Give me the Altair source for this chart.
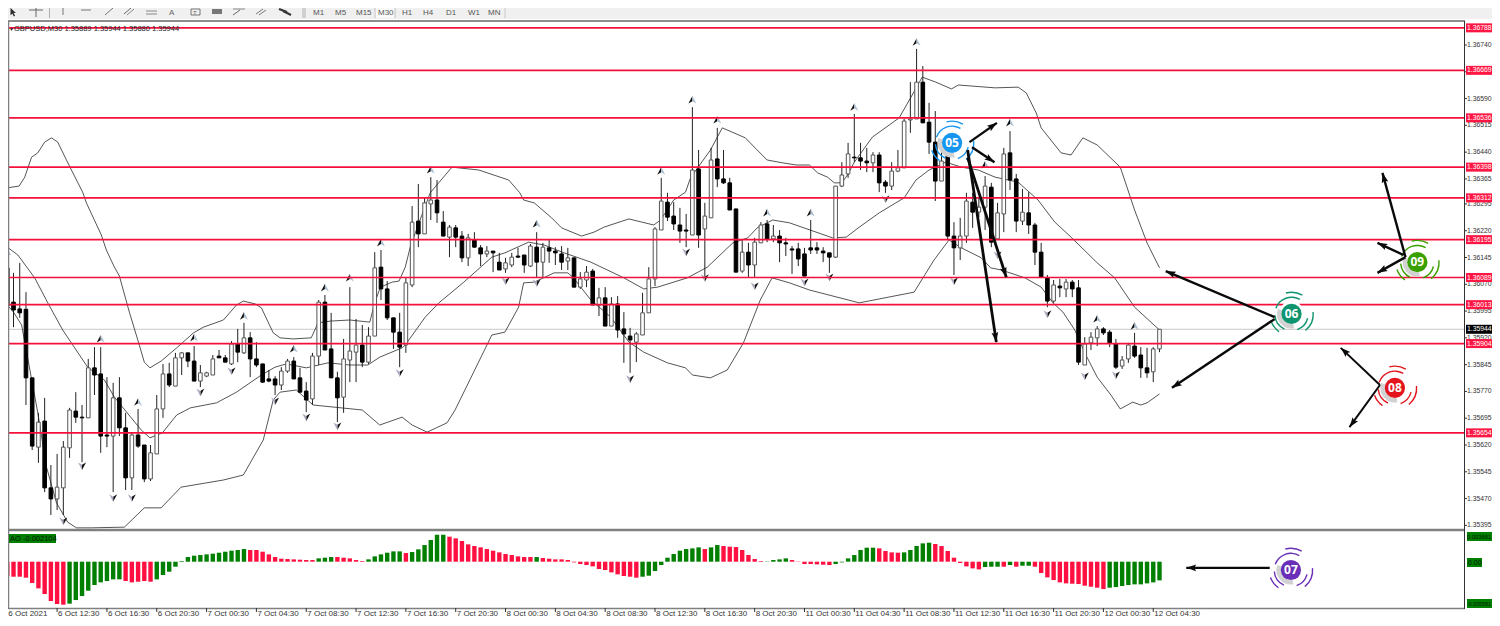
import altair as alt
import pandas as pd

FONT = "Liberation Sans"

# ---- candles (prices in units of 0.00001) ----
highs = [136144,136102,136130,136048,135808,135710,135752,135564,135595,135631,
135724,135768,135732,135861,135894,135894,135810,135794,135810,135710,
135654,135721,135620,135620,135760,135847,135850,135878,135880,135878,
135897,135844,135825,135872,135886,135872,135911,135945,135962,135936,
135908,135847,135830,135813,135838,135861,135866,135836,135796,135878,
136026,136040,135990,135825,135917,136062,135973,135956,135950,136160,
136166,136079,135976,135990,136088,136289,136351,136312,136370,136362,
136275,136236,136236,136219,136211,136216,136180,136177,136163,136158,
136144,136158,136172,136152,136183,136216,136186,136194,136174,136177,
136172,136144,136104,136121,136113,136060,136062,136034,136037,135992,
135948,135936,136046,136118,136230,136368,136326,136300,136284,136267,
136566,136446,136298,136452,136508,136446,136368,136281,136197,136186,
136200,136244,136250,136236,136222,136200,136177,136186,136172,136250,
136188,136174,136158,136345,136412,136466,136547,136466,136452,136440,
136440,136362,136412,136446,136533,136636,136729,136681,136578,136555,
136474,136454,136244,136256,136326,136326,136315,136373,136354,136298,
136452,136499,136379,136337,136328,136242,136186,136096,136082,136085,
136085,136082,136082,135922,135936,135953,135950,135942,135917,135869,
135906,135934,135894,135892,135894,135944]
tops = [136116,136020,136001,136000,135808,135684,135687,135500,135502,135614,
135718,135715,135698,135836,135836,135819,135648,135752,135752,135668,
135648,135648,135620,135598,135721,135819,135819,135864,135878,135878,
135855,135822,135822,135861,135869,135864,135903,135903,135920,135920,
135861,135847,135805,135805,135827,135855,135855,135808,135771,135869,
136020,136020,135889,135808,135861,135883,135900,135900,135925,136116,
136118,136057,135976,135936,136074,136244,136247,136298,136306,136306,
136244,136230,136228,136205,136200,136194,136172,136163,136163,136132,
136130,136146,136149,136152,136177,136174,136174,136172,136163,136155,
136144,136144,136085,136104,136107,136032,136032,136015,136015,135945,
135925,135931,135990,136085,136225,136303,136300,136261,136236,136222,
136390,136393,136261,136418,136421,136365,136354,136281,136160,136160,
136188,136236,136239,136205,136205,136186,136169,136169,136155,136172,
136172,136163,136158,136345,136376,136435,136426,136424,136415,136432,
136432,136356,136387,136396,136527,136533,136636,136636,136524,136468,
136415,136432,136205,136205,136303,136300,136286,136345,136342,136270,
136435,136438,136365,136272,136270,136236,136160,136088,136068,136065,
136076,136076,136060,135903,135922,135945,135945,135936,135903,135858,
135900,135897,135872,135836,135889,135944]
bottoms = [136009,135998,135990,135808,135617,135614,135500,135469,135469,135500,
135612,135698,135696,135696,135816,135645,135645,135645,135668,135528,
135528,135617,135525,135525,135595,135721,135788,135785,135864,135855,
135799,135799,135813,135816,135864,135852,135847,135880,135878,135861,
135844,135796,135799,135788,135788,135827,135805,135768,135746,135749,
135869,135886,135808,135752,135754,135858,135880,135852,135852,135925,
136057,135976,135936,135894,135900,136068,136211,136211,136295,136270,
136205,136202,136202,136144,136144,136174,136155,136155,136158,136110,
136113,136124,136146,136124,136121,136132,136132,136163,136158,136132,
136135,136062,136062,136082,136012,136012,135953,135953,135942,135931,
135914,135908,135928,135990,136085,136222,136258,136239,136219,136219,
136208,136208,136225,136256,136365,136354,136278,136104,136107,136124,
136124,136186,136197,136197,136186,136183,136166,136141,136093,136166,
136166,136158,136146,136146,136345,136379,136424,136415,136410,136410,
136354,136345,136345,136387,136396,136530,136533,136522,136468,136359,
136359,136205,136172,136172,136205,136272,136272,136286,136188,136197,
136267,136362,136247,136247,136236,136160,136090,136023,136023,136060,
136057,136057,135852,135844,135906,135920,135934,135906,135838,135841,
135861,135869,135836,135822,135825,135889]
lows = [135992,135950,135976,135732,135606,135570,135488,135424,135438,135424,
135584,135682,135572,135696,135760,135598,135614,135488,135645,135494,
135494,135612,135516,135519,135595,135696,135782,135785,135816,135838,
135799,135782,135810,135816,135864,135852,135844,135852,135875,135810,
135838,135794,135796,135760,135774,135822,135805,135766,135712,135732,
135844,135886,135808,135684,135710,135796,135796,135838,135847,135925,
136026,135970,135889,135838,135878,136062,136174,136211,136250,136242,
136205,136146,136174,136132,136121,136172,136121,136146,136104,136110,
136102,136118,136144,136102,136118,136090,136090,136130,136124,136110,
136110,136062,136057,136062,136012,135981,135953,135953,135920,135850,
135822,135852,135928,135990,136065,136222,136247,136222,136186,136174,
136208,136172,136090,136256,136342,136351,136278,136104,136102,136090,
136088,136186,136188,136188,136132,136149,136099,136121,136093,136155,
136155,136132,136102,136144,136342,136368,136412,136390,136384,136384,
136328,136326,136334,136384,136396,136494,136533,136522,136435,136303,
136359,136194,136096,136138,136186,136228,136258,136222,136174,136197,
136216,136334,136216,136236,136211,136124,136088,136006,136018,136034,
136034,136034,135844,135844,135886,135897,135928,135894,135833,135833,
135850,135864,135808,135808,135796,135880]
directions = ("dddddudduu" "uddudddudd" "udduuuduud" "duuuddudud" "dddduudddu"
              "uddduuuduu" "dddduuduud" "dudduddudd" "uuddududdd" "uduudududd"
              "duuuuudddd" "uduuddddud" "uududddddd" "ddduuudddu" "dduuuuuddd"
              "udduuduudu" "udduddddud" "udduuudddu" "uddduu")

# ---- Bollinger bands (candle position, price) ----
upper_i = [0,1.9,2.8,3.9,4.9,6,7.1,8.1,9.5,10.3,12.1,12.7,15.1,15.9,17.2,18,19.6,21.2,22,22.9,24.7,27.2,29.9,31.5,34.7,36.8,37.9,39.8,40.8,42.7,43.8,45.9,48.8,49.9,51.9,55,58.2,59,59.9,61.8,62.9,63.9,64.7,65.8,67.9,71.4,75.7,80.5,82.3,82.9,84.6,87.4,89,92.2,94.2,95.8,99.8,103.8,104.9,107,108.9,109.7,112.9,114.8,118.5,120.4,122,124.5,126.7,128.8,130.1,131.7,132.8,134,134.9,136,138.9,143.2,145.1,146.9,149.1,151.6,152.7,158.6,162.3,163.6,165.2,166,169.2,170.8,172.7,175,178.7,179.4,181,183,185]
upper_p = [136340,136345,136370,136426,136438,136468,136480,136468,136418,136390,136328,136298,136208,136166,136118,136093,135992,135900,135852,135836,135855,135892,135934,135950,135970,136012,136023,136015,136004,135934,135920,135917,135920,135962,135967,135970,135964,136018,136062,136076,136079,136118,136174,136228,136326,136398,136390,136362,136326,136306,136298,136256,136228,136205,136216,136230,136253,136236,136250,136306,136328,136368,136446,136508,136480,136446,136418,136410,136404,136404,136382,136370,136354,136354,136376,136412,136482,136536,136594,136650,136636,136617,136628,136620,136622,136606,136550,136508,136438,136432,136480,136460,136398,136362,136278,136186,136116]
middle_i = [0,1.7,4.4,6.5,8.9,12.9,15.6,17.2,21.5,22.9,24.9,27.2,29.4,33.6,36.8,40.8,43,44.8,48,51.5,55,57.9,59.8,63.4,63.9,67.1,69.3,73.3,77.8,79.9,83.7,86.2,89.4,93.7,99,102.2,104.4,109.2,112.4,116.5,118.9,120.4,122.9,125.6,132.5,134.7,136.8,140,144,145.9,148,150.7,153.2,155.9,158.6,162.3,165.5,168.2,170.8,175,177.8,181,185]
middle_p = [136174,136152,136088,136018,135942,135838,135802,135754,135662,135640,135654,135704,135724,135738,135768,135816,135838,135847,135836,135850,135844,135844,135866,135892,135900,135978,136018,136076,136146,136158,136188,136180,136158,136132,136088,136057,136062,136088,136118,136186,136200,136228,136250,136242,136200,136202,136230,136270,136312,136362,136390,136412,136398,136390,136370,136356,136306,136244,136202,136130,136088,136006,135942]
lower_i = [0,1,2.3,4.9,6.3,7.9,9.7,11.1,13.5,18.8,22,24.7,27.9,32,34.7,37.9,41.1,42.7,43.8,46.4,49.1,57,59.8,63.4,65,67.4,70.6,71.9,77.8,79.9,82.1,82.9,84.6,87.8,90,90.9,93.7,96.9,99.8,102.2,106,108.9,110,112.9,115.6,118.2,120.9,122.8,125.6,128.8,136.8,145.6,148.8,151.2,153.2,156.4,157.9,159.6,163.4,166,167.9,169.5,171.4,173,175,177.2,178.7,180.7,182,183,185]
lower_p = [136012,135992,135956,135710,135558,135458,135404,135388,135388,135390,135444,135444,135502,135514,135522,135536,135634,135746,135768,135774,135732,135718,135676,135698,135676,135656,135682,135718,135928,135936,136006,136074,136076,136102,136102,136088,136026,135978,135908,135880,135850,135836,135816,135808,135830,135906,136026,136088,136074,136054,136018,136048,136138,136194,136172,136144,136116,136110,136088,136062,136018,135992,135942,135878,135810,135760,135721,135740,135732,135738,135763]

# ---- fractals ----
frac_up_i = [0,15,21,30,38,46,51,55,60,68,85,105,110,114,122,129,136,146,157,161,175,181]
frac_up_p = [136160,135917,135740,135920,135981,135889,136060,136088,136186,136390,136239,136387,136586,136530,136270,136270,136566,136748,136404,136522,135973,135953]
frac_dn_i = [9,12,17,20,31,36,43,48,53,63,80,85,100,109,112,120,128,132,141,152,159,167,173,178]
frac_dn_p = [135407,135561,135472,135472,135768,135827,135743,135698,135673,135822,136079,136074,135805,136160,136088,136065,136076,136090,136309,136079,136152,135987,135813,135816]

# ---- horizontal levels ----
levels = [136788,136669,136536,136398,136312,136195,136089,136013,135904,135654]
level_labels = ["1.36788","1.36669","1.36536","1.36398","1.36312","1.36195","1.36089","1.36013","1.35904","1.35654"]
last_price = 135944
price_ticks = [136740,136665,136590,136515,136440,136365,136295,136220,136145,136070,135995,135920,135845,135770,135695,135620,135545,135470,135395]
price_tick_labels = ["1.36740","1.36665","1.36590","1.36515","1.36440","1.36365","1.36295","1.36220","1.36145","1.36070","1.35995","1.35920","1.35845","1.35770","1.35695","1.35620","1.35545","1.35470","1.35395"]

# ---- Awesome Oscillator (units of 0.000001) ----
ao = [-1819,-1949,-1949,-2078,-2771,-3464,-4200,-5109,-5500,-5581,
-5450,-4980,-4460,-3767,-3031,-2685,-2511,-2295,-2290,-2511,
-2685,-2598,-2511,-2598,-2295,-1732,-1299,-650,87,606,
779,866,953,1039,1169,1299,1429,1516,1645,1516,
1516,1299,953,606,390,346,303,260,217,217,
433,520,606,606,520,433,217,87,303,693,
953,1169,1342,1342,1126,1256,1602,2165,2815,3500,
3500,3248,3031,2685,2252,2035,1862,1645,1429,1212,
996,866,693,606,606,606,476,390,303,303,
217,-87,-303,-433,-606,-953,-1083,-1386,-1645,-1862,
-1949,-2078,-1949,-1819,-1212,-433,520,996,1429,1645,
1732,1862,1645,1862,2165,2035,1949,1905,1516,866,
346,87,40,217,303,433,217,-40,-303,-303,
-346,-390,-433,-303,-87,433,866,1516,1819,1819,
1732,1386,1212,1169,1212,1516,2035,2382,2468,2295,
2035,1386,520,-173,-606,-866,-996,-693,-650,-650,
-650,-433,-650,-520,-520,-650,-1472,-2035,-2382,-2685,
-2815,-2858,-2901,-3118,-3248,-3377,-3551,-3377,-3291,-3161,
-3031,-2944,-2944,-2815,-2685,-2425]
ao_colors = ("r"*10+"g"*9+"r"*5+"g"*15+"r"*11+"g"*3+"r"*5+"g"*6+"r"+"g"*6+"r"*14+"g"+"r"*16+"g"*10+"r"+"g"*2
             +"r"*7+"g"*4+"r"*7+"g"*7+"r"*4+"g"*5+"r"*8+"g"*3+"r"+"g"+"r"+"g"*2+"r"*12+"g"*9)

# ---- time axis ----
time_i = list(range(0,185,8))
time_labels = ["6 Oct 2021","6 Oct 12:30","6 Oct 16:30","6 Oct 20:30","7 Oct 00:30","7 Oct 04:30","7 Oct 08:30","7 Oct 12:30","7 Oct 16:30","7 Oct 20:30","8 Oct 00:30","8 Oct 04:30","8 Oct 08:30","8 Oct 12:30","8 Oct 16:30","8 Oct 20:30","11 Oct 00:30","11 Oct 04:30","11 Oct 08:30","11 Oct 12:30","11 Oct 16:30","11 Oct 20:30","12 Oct 00:30","12 Oct 04:30"]

# ---- annotations ----
bubble_i = [151.7,206.2,206.1,222.8,226.4]
bubble_p = [136466,135987,135270,135780,136132]
bubble_text = ["05","06","07","08","09"]
bubble_color = ["#1796f0","#0f9470","#6a2fb8","#e3141c","#3aa000"]
arrow_i = [154.5,154.9,154.2,154.2,203.5,203.5,202.7,220.4,220.4,224.5,224.2,224.5]
arrow_p = [136468,136454,136424,136446,135978,135973,135276,135788,135788,136146,136152,136146]
arrow_i2 = [158.9,158.5,160.4,158.8,186.0,187.0,189.3,214.1,215.5,220.8,220,220]
arrow_p2 = [136522,136412,136090,135908,136107,135780,135276,135892,135670,136382,136186,136102]
arrow_angle = [54.9,123,161.9,171.4,292.9,236.2,270,312.8,216.4,344.7,294.8,240.3]
arrow_width = [2.4,2.4,2.8,2.8,2.4,2.4,2.4,2,2,2.4,2.4,2.4]

# ---- scales: the page margin is 8 px, so the chart's origin sits at (8, 8) ----
M = 8
x_scale = alt.Scale(domain=[-0.367,238.87], range=[-M,1500-M], nice=False, zero=False)
y_scale = alt.Scale(domain=[135113.2,136866], range=[626-M,-M], nice=False, zero=False)
ao_scale = alt.Scale(domain=[-6013,3857], range=[608-M,532-M], nice=False, zero=False)
def X(f): return alt.X(f+":Q", scale=x_scale, axis=None)
def Y(f): return alt.Y(f+":Q", scale=y_scale, axis=None)
def Y2(f): return alt.Y2(f)
def PX(f): return alt.X(f+":Q", scale=None, axis=None)
def PY(f): return alt.Y(f+":Q", scale=None, axis=None)
def VX(v): return alt.value(v-M)
def VY(v): return alt.value(v-M)
def page(rows):
    df = pd.DataFrame(rows)
    for k in ("x","x2","y","y2"):
        if k in df: df[k] = df[k]-M
    return df

candles = pd.DataFrame({"i":range(len(highs)),"high":highs,"low":lows,"top":tops,"bottom":bottoms,"dir":list(directions)})
ao_df = pd.DataFrame({"i":range(len(ao)),"ao":ao,"zero":[0]*len(ao),"c":list(ao_colors)})

layers = []
rects = page([
 dict(x=8,x2=1492,y=8,y2=19,c="#f0f0f0"),
 dict(x=375,x2=395,y=8,y2=18,c="#fafafa"),
 dict(x=212,x2=222,y=9,y2=14,c="#777777"),
])
layers.append(alt.Chart(rects).mark_rect().encode(x=PX("x"),x2="x2:Q",y=PY("y"),y2="y2:Q",color=alt.Color("c:N",scale=None)))

layers.append(alt.Chart(pd.DataFrame({"p":[last_price]})).mark_rule(color="#c8c8c8",strokeWidth=1).encode(x=VX(8),x2=VX(1464),y=Y("p")))

for bi,bp in ((upper_i,upper_p),(middle_i,middle_p),(lower_i,lower_p)):
    layers.append(alt.Chart(pd.DataFrame({"i":bi,"p":bp})).mark_line(color="#2a2a2a",strokeWidth=0.8).encode(x=X("i"),y=Y("p")))

layers.append(alt.Chart(candles).mark_rule(color="#222222",strokeWidth=1).encode(x=X("i"),y=Y("low"),y2=Y2("high")))
layers.append(alt.Chart(candles).mark_bar(size=3.6,strokeWidth=1).encode(
    x=X("i"),y=Y("bottom"),y2=Y2("top"),
    fill=alt.Fill("dir:N",scale=alt.Scale(domain=["u","d"],range=["#ffffff","#000000"]),legend=None),
    stroke=alt.Stroke("dir:N",scale=alt.Scale(domain=["u","d"],range=["#555555","#000000"]),legend=None)))

up_df = pd.DataFrame({"i":frac_up_i,"p":frac_up_p})
dn_df = pd.DataFrame({"i":frac_dn_i,"p":frac_dn_p})
for df,shape,col in ((up_df,"M0,-1L-1,0.9L0,0.3Z","#111111"),(up_df,"M0,-1L1,0.9L0,0.3Z","#a9bdd0"),
                     (dn_df,"M0,1L1,-0.9L0,-0.3Z","#111111"),(dn_df,"M0,1L-1,-0.9L0,-0.3Z","#a9a9c0")):
    layers.append(alt.Chart(df).mark_point(shape=shape,filled=True,size=64,color=col,opacity=1).encode(x=X("i"),y=Y("p")))

lev = pd.DataFrame({"p":levels,"t":level_labels})
layers.append(alt.Chart(lev).mark_rule(color="#f5103c",strokeWidth=1.7).encode(x=VX(8),x2=VX(1465),y=Y("p")))

tk = pd.DataFrame({"p":price_ticks,"t":price_tick_labels})
LBL = 6.8
layers.append(alt.Chart(tk).mark_rule(color="#333333",strokeWidth=1).encode(x=VX(1464),x2=VX(1467),y=Y("p")))
layers.append(alt.Chart(tk).mark_text(align="left",baseline="middle",font=FONT,fontSize=LBL,color="#333333").encode(x=VX(1467),y=Y("p"),text="t:N"))
layers.append(alt.Chart(lev).mark_rule(color="#ff1744",strokeWidth=9).encode(x=VX(1466),x2=VX(1492),y=Y("p")))
layers.append(alt.Chart(lev).mark_text(align="left",baseline="middle",font=FONT,fontSize=LBL,color="#ffffff").encode(x=VX(1467),y=Y("p"),text="t:N"))
last_df = pd.DataFrame({"p":[last_price],"t":["1.35944"]})
layers.append(alt.Chart(last_df).mark_rule(color="#000000",strokeWidth=9).encode(x=VX(1466),x2=VX(1492),y=Y("p")))
layers.append(alt.Chart(last_df).mark_text(align="left",baseline="middle",font=FONT,fontSize=LBL,color="#ffffff").encode(x=VX(1467),y=Y("p"),text="t:N"))

layers.append(alt.Chart(ao_df).mark_bar(size=4.4).encode(x=X("i"),y=alt.Y("ao:Q",scale=ao_scale,axis=None),y2=alt.Y2("zero"),
    color=alt.Color("c:N",scale=alt.Scale(domain=["r","g"],range=["#ff1040","#007f00"]),legend=None)))

lines = page([
 dict(x=8,y=21,x2=1465,y2=21,c="#8c8c8c",w=2),
 dict(x=8.5,y=21,x2=8.5,y2=609,c="#808080",w=1.5),
 dict(x=8,y=530,x2=1465,y2=530,c="#808080",w=2.5),
 dict(x=8,y=608.5,x2=1465,y2=608.5,c="#808080",w=1.5),
 dict(x=1464.5,y=21,x2=1464.5,y2=609,c="#333333",w=1),
 dict(x=29,y=10,x2=43,y2=10,c="#666666",w=1),
 dict(x=36,y=8,x2=36,y2=17,c="#666666",w=1),
 dict(x=49.5,y=8,x2=49.5,y2=18,c="#b0b0b0",w=1),
 dict(x=63,y=8,x2=63,y2=15,c="#777777",w=1),
 dict(x=81,y=10,x2=91,y2=10,c="#777777",w=1),
 dict(x=105,y=15,x2=113,y2=8,c="#777777",w=1),
 dict(x=124,y=14,x2=131,y2=8,c="#666666",w=1),
 dict(x=127,y=15,x2=134,y2=9,c="#888888",w=1),
 dict(x=146,y=11,x2=157,y2=11,c="#888888",w=1),
 dict(x=146,y=14,x2=157,y2=14,c="#888888",w=1),
 dict(x=191,y=9,x2=200,y2=9,c="#777777",w=1),
 dict(x=191,y=15,x2=200,y2=15,c="#777777",w=1),
 dict(x=191,y=9,x2=191,y2=15,c="#777777",w=1),
 dict(x=200,y=9,x2=200,y2=15,c="#777777",w=1),
 dict(x=233,y=9,x2=245,y2=9,c="#888888",w=1),
 dict(x=233,y=15,x2=240,y2=10,c="#666666",w=1),
 dict(x=256,y=14,x2=263,y2=9,c="#777777",w=1),
 dict(x=259,y=15,x2=266,y2=10,c="#777777",w=1),
 dict(x=279,y=9,x2=287,y2=12,c="#333333",w=2),
 dict(x=283,y=11,x2=291,y2=15,c="#333333",w=2),
 dict(x=303,y=8,x2=303,y2=18,c="#b0b0b0",w=1),
 dict(x=305,y=8,x2=305,y2=18,c="#b0b0b0",w=1),
 dict(x=375,y=8,x2=375,y2=18,c="#c0c0c0",w=1),
 dict(x=395,y=8,x2=395,y2=18,c="#c0c0c0",w=1),
 dict(x=505,y=8,x2=505,y2=18,c="#c8c8c8",w=1),
])
layers.append(alt.Chart(lines).mark_rule().encode(x=PX("x"),y=PY("y"),x2="x2:Q",y2="y2:Q",
    color=alt.Color("c:N",scale=None),strokeWidth=alt.StrokeWidth("w:Q",scale=None)))

tm = pd.DataFrame({"i":time_i,"t":time_labels})
layers.append(alt.Chart(tm).mark_rule(color="#333333",strokeWidth=1).encode(x=X("i"),y=VY(608),y2=VY(612)))
layers.append(alt.Chart(tm).mark_text(align="left",baseline="middle",dx=1,font=FONT,fontSize=8,color="#333333").encode(x=X("i"),y=VY(613.5),text="t:N"))

green = page([
 dict(x=9,x2=56,y=534,y2=543),
 dict(x=1467,x2=1492,y=532,y2=541),
 dict(x=1467,x2=1482,y=558,y2=567),
 dict(x=1467,x2=1492,y=599,y2=608),
])
layers.append(alt.Chart(green).mark_rect().encode(x=PX("x"),x2="x2:Q",y=PY("y"),y2="y2:Q",color=alt.value("#008000")))
chrome_text = page([
 dict(x=10,y=538.5,t="AO -0.002104",c="#001a00",s=7.5),
 dict(x=1467,y=536.5,t="0.003661",c="#001a00",s=5.8),
 dict(x=1468,y=562.5,t="0.00",c="#001a00",s=7),
 dict(x=1467,y=603.5,t="-0.005581",c="#001a00",s=5.3),
 dict(x=14,y=29,t="GBPUSD,M30  1.35889 1.35944 1.35880 1.35944",c="#222222",s=7.5),
 dict(x=9,y=29,t="▼",c="#222222",s=5),
 dict(x=169,y=13,t="A",c="#666666",s=8),
 dict(x=193,y=12.5,t="T",c="#666666",s=6),
 dict(x=313,y=13,t="M1",c="#555555",s=8),
 dict(x=335,y=13,t="M5",c="#555555",s=8),
 dict(x=356,y=13,t="M15",c="#555555",s=8),
 dict(x=378,y=13,t="M30",c="#555555",s=8),
 dict(x=402,y=13,t="H1",c="#555555",s=8),
 dict(x=423,y=13,t="H4",c="#555555",s=8),
 dict(x=446,y=13,t="D1",c="#555555",s=8),
 dict(x=468,y=13,t="W1",c="#555555",s=8),
 dict(x=488,y=13,t="MN",c="#555555",s=8),
])
layers.append(alt.Chart(chrome_text).mark_text(align="left",baseline="middle",font=FONT).encode(x=PX("x"),y=PY("y"),text="t:N",
    color=alt.Color("c:N",scale=None),size=alt.Size("s:Q",scale=None)))
layers.append(alt.Chart(page({"x":[13],"y":[12]})).mark_point(shape="M-0.6,-1L-0.6,0.8L-0.15,0.4L0.2,1.1L0.5,0.9L0.15,0.25L0.7,0.25Z",filled=True,size=70,color="#333333",opacity=1).encode(x=PX("x"),y=PY("y")))

bub = pd.DataFrame({"i":bubble_i,"p":bubble_p,"t":bubble_text,"c":bubble_color})
layers.append(alt.Chart(bub).mark_point(filled=True,shape="circle",size=640,color="#ffffff",opacity=1).encode(x=X("i"),y=Y("p")))
D = 3.14159265/180
ring_spec = [(10,14.5,170,290,"shadow"),(16,17.4,-70,30,"c"),(16,17.4,105,160,"c"),(16,17.4,205,265,"c"),
             (21,22.4,-15,30,"c"),(21,22.4,85,140,"c"),(21,22.4,215,250,"c")]
rows=[]
for bi,bp,bc in zip(bubble_i,bubble_p,bubble_color):
    for r,r2,a,b,kind in ring_spec:
        rows.append(dict(i=bi,p=bp,r=r2,r2=r,a=a*D,b=b*D,c="#d2d2d2" if kind=="shadow" else bc))
layers.append(alt.Chart(pd.DataFrame(rows)).mark_arc().encode(x=X("i"),y=Y("p"),
    theta=alt.Theta("a:Q",scale=None,stack=None),theta2="b:Q",
    radius=alt.Radius("r:Q",scale=None),radius2="r2:Q",
    fill=alt.Fill("c:N",scale=None)))
layers.append(alt.Chart(bub).mark_point(filled=True,shape="circle",size=410,opacity=1).encode(x=X("i"),y=Y("p"),fill=alt.Fill("c:N",scale=None)))
layers.append(alt.Chart(bub).mark_text(font="Open Sans",fontWeight="bold",fontSize=12,color="#ffffff",baseline="middle").encode(x=X("i"),y=Y("p"),text="t:N"))

arr = pd.DataFrame({"i":arrow_i,"p":arrow_p,"i2":arrow_i2,"p2":arrow_p2,"a":arrow_angle,"w":arrow_width})
layers.append(alt.Chart(arr).mark_rule(color="#0a0a0a").encode(x=X("i"),y=Y("p"),x2="i2:Q",y2="p2:Q",strokeWidth=alt.StrokeWidth("w:Q",scale=None)))
layers.append(alt.Chart(arr).mark_point(shape="M0,0L-0.75,2.2L0,1.8L0.75,2.2Z",filled=True,size=81,color="#0a0a0a",opacity=1,strokeWidth=0).encode(
    x=X("i2"),y=Y("p2"),angle=alt.Angle("a:Q",scale=None)))

chart = alt.layer(*layers).resolve_scale(y="independent").properties(
    width=1500-2*M,height=626-2*M,background="#ffffff",padding=0,
    autosize=alt.AutoSizeParams(type="none",contains="padding"),
).configure_view(stroke=None)

chart.save("out.html", embed_options={"renderer": "svg", "actions": False})
